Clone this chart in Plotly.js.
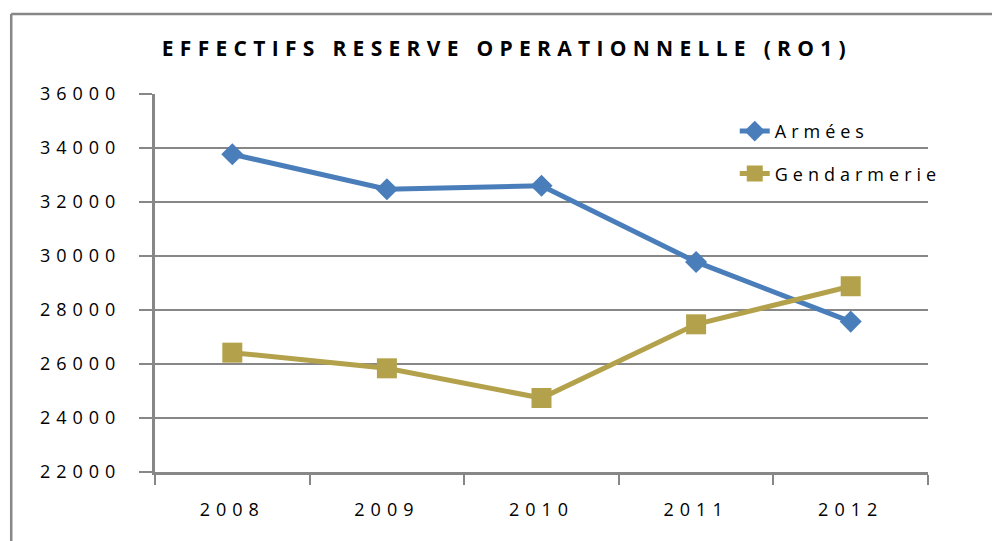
<!DOCTYPE html>
<html>
<head>
<meta charset="utf-8">
<script src="https://cdn.plot.ly/plotly-3.0.1.min.js"></script>
<style>
  body { margin: 0; background: #fff; }
  #chart { width: 992px; height: 541px; }
  /* the source chart uses widely spaced letters everywhere
     (global selectors so plotly's text measuring sees them too) */
  .gtitle { letter-spacing: 6.3px; }
  .xtick text, .ytick text { letter-spacing: 6px; }
  .legendtext { letter-spacing: 5px; }
</style>
</head>
<body>
<div id="chart"></div>
<script>
// data
const years = ["2008", "2009", "2010", "2011", "2012"];
const armees = [33770, 32470, 32600, 29780, 27570];
const gendarmerie = [26420, 25840, 24740, 27470, 28880];

const gridGrey = "#878787";
const fontFam = "'Open Sans', 'Liberation Sans', sans-serif";

const traces = [
  {
    x: years,
    y: armees,
    name: "Armées",
    legendgroup: "a",
    type: "scatter",
    mode: "lines+markers",
    line: { color: "#4a7ebb", width: 5 },
    marker: { symbol: "diamond", size: 17, color: "#4a7ebb" },
  },
  {
    x: years,
    y: gendarmerie,
    name: "Gendarmerie",
    legendgroup: "b",
    type: "scatter",
    mode: "lines+markers",
    line: { color: "#b3a24b", width: 5 },
    marker: { symbol: "square", size: 20, color: "#b3a24b" },
  },
];

const layout = {
  width: 992,
  height: 541,
  margin: { l: 155, r: 64, t: 94, b: 69 },
  paper_bgcolor: "#fff",
  plot_bgcolor: "#fff",
  font: { family: fontFam, color: "#000" },
  showlegend: true,
  title: {
    text: "EFFECTIFS RESERVE OPERATIONNELLE (RO1)",
    font: { family: fontFam, size: 21, weight: 700, color: "#000" },
    xref: "container",
    x: 0.511,
    xanchor: "center",
    yref: "container",
    y: 0.91,
    yanchor: "middle",
  },
  xaxis: {
    type: "category",
    range: [-0.5, 4.5],
    showgrid: false,
    showline: true,
    linecolor: gridGrey,
    linewidth: 3,
    ticks: "outside",
    tickson: "boundaries",
    ticklen: 10,
    tickwidth: 2,
    tickcolor: gridGrey,
    ticklabelstandoff: 19,
    tickfont: { family: fontFam, size: 18, color: "#000" },
    zeroline: false,
  },
  yaxis: {
    range: [22000, 36000],
    dtick: 2000,
    tickformat: "d",
    showgrid: true,
    gridcolor: gridGrey,
    gridwidth: 2,
    showline: true,
    linecolor: gridGrey,
    linewidth: 3,
    ticks: "outside",
    ticklen: 13,
    tickwidth: 2,
    tickcolor: gridGrey,
    ticklabelstandoff: 14,
    tickfont: { family: fontFam, size: 18, color: "#000" },
    zeroline: false,
  },
  legend: {
    x: 0.75,
    xanchor: "left",
    y: 0.95,
    yanchor: "top",
    bgcolor: "rgba(0,0,0,0)",
    traceorder: "grouped",
    tracegroupgap: 16,
    font: { family: fontFam, size: 18, color: "#000" },
  },
  // outer frame of the original chart box (only top and left edges are visible)
  shapes: [
    {
      type: "line", xref: "paper", yref: "paper", layer: "below",
      x0: -0.186, x1: 1.2, y0: 1.2116, y1: 1.2116,
      line: { color: gridGrey, width: 2.5 },
    },
    {
      type: "line", xref: "paper", yref: "paper", layer: "below",
      x0: -0.186, x1: -0.186, y0: 1.2116, y1: -0.3,
      line: { color: gridGrey, width: 2.5 },
    },
  ],
};

Plotly.newPlot("chart", traces, layout, { displayModeBar: false, staticPlot: true });
</script>
</body>
</html>
